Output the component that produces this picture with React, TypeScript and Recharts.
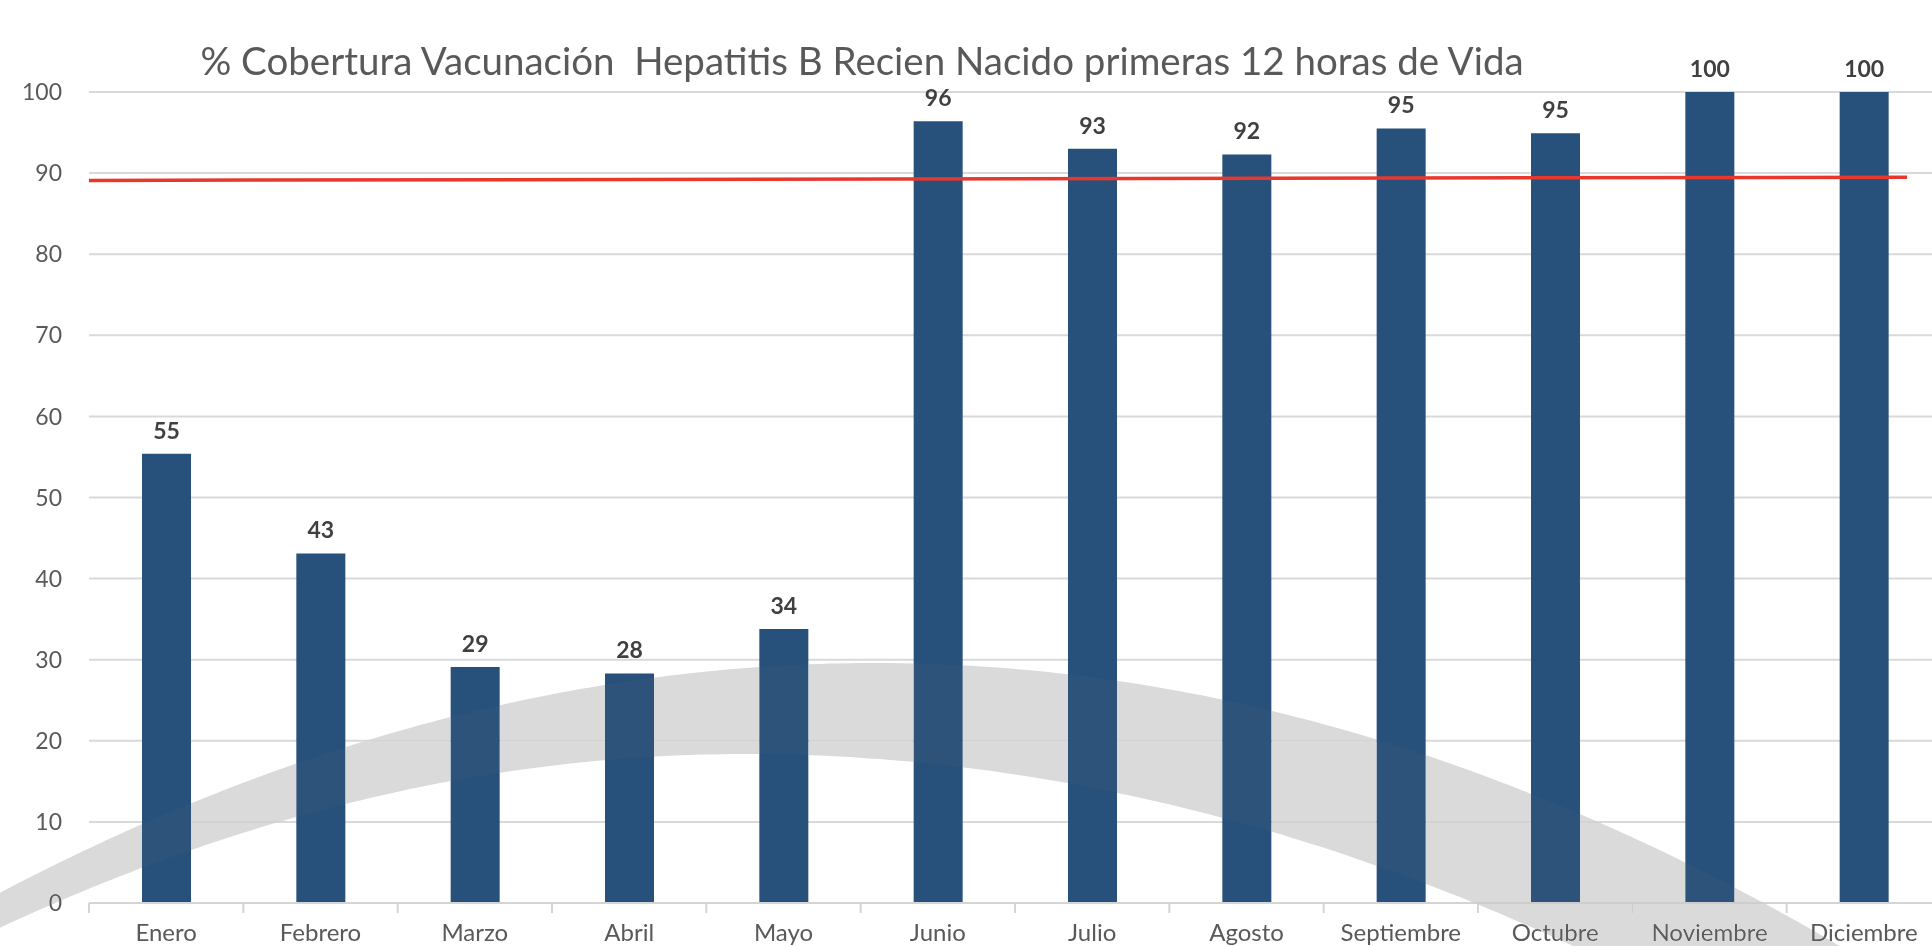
import React from 'react';
import { ComposedChart, Bar, Line, XAxis, YAxis, CartesianGrid, LabelList } from 'recharts';

const months = ['Enero', 'Febrero', 'Marzo', 'Abril', 'Mayo', 'Junio', 'Julio', 'Agosto', 'Septiembre', 'Octubre', 'Noviembre', 'Diciembre'];
const coverage = [55.4, 43.1, 29.1, 28.3, 33.8, 96.4, 93.0, 92.3, 95.5, 94.9, 100, 100];
const coverageLabels = [55, 43, 29, 28, 34, 96, 93, 92, 95, 95, 100, 100];
const yTicks = [0, 10, 20, 30, 40, 50, 60, 70, 80, 90, 100];
// target line (meta ~89%), on a hidden numeric axis 0..12 so it can start at the plot edge
const targetPos = [0, 11.78];
const targetValue = [89.1, 89.5];

const chartData = months.map((m, i) => ({ month: m, coverage: coverage[i], label: coverageLabels[i] }));
const targetData = targetPos.map((p, i) => ({ pos: p, target: targetValue[i] }));

const FONT = 'Lato, "Open Sans", sans-serif';

// decorative grey arc in the background of the original slide (two parabolic edges)
function edge(peakX: number, peakY: number, kLeft: number, kRight: number, from: number, to: number, step: number) {
  const pts: number[][] = [];
  const dir = to > from ? 1 : -1;
  for (let x = from; dir > 0 ? x <= to : x >= to; x += step * dir) {
    const k = x < peakX ? kLeft : kRight;
    pts.push([x, peakY + k * (x - peakX) * (x - peakX)]);
  }
  return pts;
}
const outer = edge(875, 663, 3.0e-4, 3.04e-4, -60, 1900, 10);
const inner = edge(745, 754, 3.13e-4, 2.8e-4, 1650, -60, 10);
const arcPath =
  'M' + outer.map((p) => `${p[0]},${p[1].toFixed(1)}`).join(' L') +
  ' L' + inner.map((p) => `${p[0]},${p[1].toFixed(1)}`).join(' L') + ' Z';

const MonthTick = (props: any) => {
  const { x, y, payload } = props;
  const half = payload && payload.offset ? payload.offset : 77;
  return (
    <g>
      <line x1={x - half} y1={y} x2={x - half} y2={y + 10} stroke="#D4D4D4" strokeWidth={2} />
      <text x={x} y={y + 38} textAnchor="middle" fill="#595959" fontSize={24} fontFamily={FONT}>
        {payload.value}
      </text>
    </g>
  );
};

const App: React.FC = () => {
  return (
    <div style={{ position: 'absolute', left: 0, top: 0, width: 1932, height: 946, overflow: 'hidden', background: '#fff' }}>
      <ComposedChart
        width={1941}
        height={946}
        data={chartData}
        margin={{ top: 92, right: 0, bottom: 0, left: 0 }}
        barCategoryGap={0}
      >
        <CartesianGrid vertical={false} stroke="#D9D9D9" strokeWidth={2} />
        <XAxis
          dataKey="month"
          height={43}
          axisLine={{ stroke: '#D4D4D4', strokeWidth: 2 }}
          tickLine={false}
          tickSize={0}
          tickMargin={0}
          interval={0}
          tick={<MonthTick />}
        />
        <XAxis xAxisId="pos" dataKey="pos" type="number" domain={[0, 12]} allowDataOverflow hide />
        <YAxis
          width={89}
          domain={[0, 100]}
          ticks={yTicks}
          axisLine={false}
          tickLine={false}
          tickMargin={21}
          tick={{ fill: '#595959', fontSize: 23, fontFamily: FONT }}
        />
        <Bar dataKey="coverage" fill="#27507B" barSize={49} isAnimationActive={false}>
          <LabelList
            dataKey="label"
            position="top"
            offset={15}
            fill="#404040"
            fontSize={23}
            fontWeight={700}
            fontFamily={FONT}
          />
        </Bar>
        <Line
          xAxisId="pos"
          data={targetData}
          dataKey="target"
          type="linear"
          stroke="#E8382E"
          strokeWidth={3.5}
          dot={false}
          activeDot={false}
          isAnimationActive={false}
        />
      </ComposedChart>
      <div
        style={{
          position: 'absolute',
          left: 862,
          top: 37,
          transform: 'translateX(-50%)',
          whiteSpace: 'pre',
          fontFamily: FONT,
          fontSize: 38.5,
          color: '#595959',
          lineHeight: '46px',
        }}
      >
        {'% Cobertura Vacunación  Hepatitis B Recien Nacido primeras 12 horas de Vida'}
      </div>
      <svg width={1932} height={946} style={{ position: 'absolute', left: 0, top: 0, pointerEvents: 'none' }}>
        <path d={arcPath} fill="#E2E2E2" style={{ mixBlendMode: 'darken' }} />
        <path d={arcPath} fill="#808080" fillOpacity={0.08} />
      </svg>
    </div>
  );
};

export default App;
